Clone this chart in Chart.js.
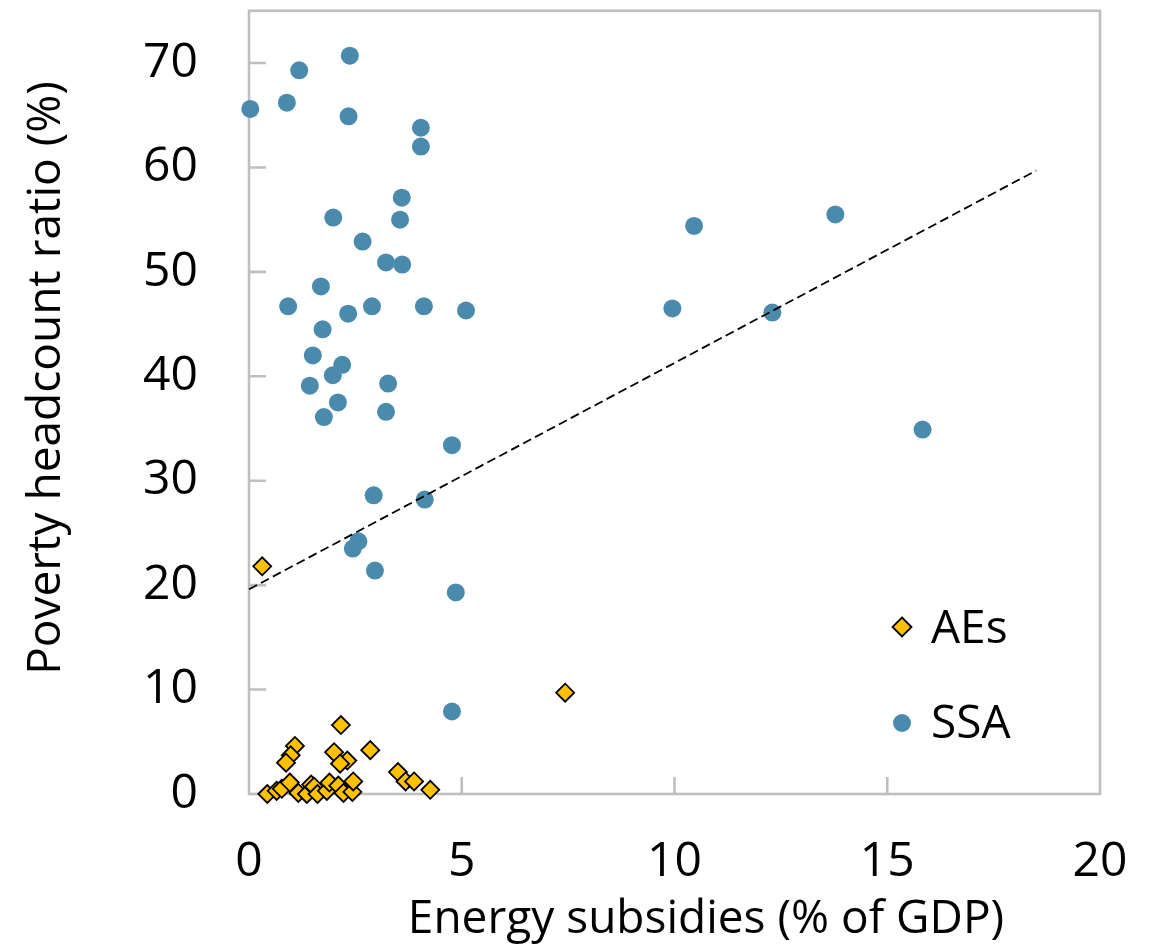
<!DOCTYPE html>
<html>
<head>
<meta charset="utf-8">
<script src="https://cdn.jsdelivr.net/npm/chart.js@4.4.1/dist/chart.umd.min.js"></script>
<style>
  html, body { margin: 0; padding: 0; background: #ffffff; }
  canvas { display: block; }
</style>
</head>
<body>
<canvas id="chart" width="1155" height="945"></canvas>
<script>
// Axis ticks
const xTicks = [0, 5, 10, 15, 20];
const yTicks = [0, 10, 20, 30, 40, 50, 60, 70];

// Advanced economies: energy subsidies (% of GDP) vs poverty headcount ratio (%)
const aeX = [0.31, 7.43, 2.16, 1.08, 0.98, 0.87, 2.00, 2.31, 2.14, 2.85, 3.50, 3.68, 3.88, 4.26,
             0.43, 0.65, 0.77, 0.96, 1.16, 1.36, 1.46, 1.53, 1.61, 1.83, 1.89, 2.10, 2.22, 2.43, 2.45];
const aeY = [21.8, 9.7, 6.6, 4.6, 3.7, 3.0, 4.0, 3.2, 2.9, 4.2, 2.1, 1.2, 1.2, 0.4,
             0.0, 0.3, 0.5, 1.1, 0.1, 0.0, 0.9, 0.7, 0.0, 0.3, 1.1, 0.8, 0.1, 0.2, 1.2];

// Sub-Saharan Africa
const ssaX = [0.03, 0.89, 1.18, 2.37, 2.34, 4.04, 4.04, 3.59, 1.98, 3.55, 2.67, 3.22, 3.60, 1.69,
              0.92, 2.89, 4.11, 5.10, 2.33, 1.73, 1.50, 2.19, 1.97, 1.43, 3.27, 2.09, 1.76, 3.22,
              4.77, 2.93, 4.13, 2.57, 2.44, 2.96, 4.86, 4.77, 10.46, 9.95, 12.30, 13.78, 15.83];
const ssaY = [65.6, 66.2, 69.3, 70.7, 64.9, 63.8, 62.0, 57.1, 55.2, 55.0, 52.9, 50.9, 50.7, 48.6,
              46.7, 46.7, 46.7, 46.3, 46.0, 44.5, 42.0, 41.1, 40.1, 39.1, 39.3, 37.5, 36.1, 36.6,
              33.4, 28.6, 28.2, 24.2, 23.5, 21.4, 19.3, 7.9, 54.4, 46.5, 46.1, 55.5, 34.9];

// Linear trend (SSA)
const trendX = [0, 18.5];
const trendY = [19.6, 59.7];

const seriesNames = ['AEs', 'SSA'];
const xTitle = 'Energy subsidies (% of GDP)';
const yTitle = 'Poverty headcount ratio (%)';

const FONT = "'Open Sans', 'Noto Sans', sans-serif";
const AE_FILL = '#FFC000';
const SSA_FILL = '#4A8BAD';
const FRAME = '#BFBFBF';

const zip = (xs, ys) => xs.map((x, i) => ({ x: x, y: ys[i] }));

// Plot frame and inward tick marks, drawn beneath the markers
const framePlugin = {
  id: 'frame',
  beforeDatasetsDraw(chart) {
    const { ctx, chartArea: a, scales } = chart;
    ctx.save();
    ctx.strokeStyle = FRAME;
    ctx.lineWidth = 2.6;
    ctx.strokeRect(a.left, a.top, a.right - a.left, a.bottom - a.top);
    const len = 17;
    ctx.beginPath();
    xTicks.slice(1, -1).forEach(v => {
      const px = scales.x.getPixelForValue(v);
      ctx.moveTo(px, a.bottom);
      ctx.lineTo(px, a.bottom - len);
    });
    yTicks.slice(1).forEach(v => {
      const py = scales.y.getPixelForValue(v);
      ctx.moveTo(a.left, py);
      ctx.lineTo(a.left + len, py);
    });
    ctx.stroke();
    ctx.restore();
  }
};

function diamond(ctx, x, y, r) {
  ctx.beginPath();
  ctx.moveTo(x, y - r);
  ctx.lineTo(x + r, y);
  ctx.lineTo(x, y + r);
  ctx.lineTo(x - r, y);
  ctx.closePath();
}

// Axis titles and the in-plot legend
const labelsPlugin = {
  id: 'labels',
  afterDraw(chart) {
    const { ctx } = chart;
    ctx.save();
    ctx.fillStyle = '#000000';
    ctx.font = '46px ' + FONT;
    ctx.textAlign = 'center';
    ctx.textBaseline = 'alphabetic';
    ctx.fillText(xTitle, 706, 933);

    ctx.translate(60, 378);
    ctx.rotate(-Math.PI / 2);
    ctx.fillText(yTitle, 0, 0);
    ctx.restore();

    ctx.save();
    // AEs
    diamond(ctx, 902, 627, 9.5);
    ctx.fillStyle = AE_FILL;
    ctx.fill();
    ctx.lineWidth = 1.8;
    ctx.strokeStyle = '#000000';
    ctx.stroke();
    // SSA
    ctx.beginPath();
    ctx.arc(902, 723, 9, 0, Math.PI * 2);
    ctx.fillStyle = SSA_FILL;
    ctx.fill();

    ctx.fillStyle = '#000000';
    ctx.font = '46px ' + FONT;
    ctx.textAlign = 'left';
    ctx.textBaseline = 'alphabetic';
    ctx.fillText(seriesNames[0], 931, 643);
    ctx.fillText(seriesNames[1], 931, 738);
    ctx.restore();
  }
};

new Chart(document.getElementById('chart'), {
  type: 'scatter',
  data: {
    datasets: [
      {
        type: 'line',
        label: 'Trend',
        data: zip(trendX, trendY),
        borderColor: '#000000',
        borderWidth: 1.8,
        borderDash: [9, 4.5],
        pointRadius: 0,
        fill: false,
        order: 0
      },
      {
        label: seriesNames[0],
        data: zip(aeX, aeY),
        pointStyle: 'rectRot',
        pointRadius: 9,
        backgroundColor: AE_FILL,
        borderColor: '#000000',
        borderWidth: 1.8,
        order: 1
      },
      {
        label: seriesNames[1],
        data: zip(ssaX, ssaY),
        pointStyle: 'circle',
        pointRadius: 9,
        backgroundColor: SSA_FILL,
        borderColor: SSA_FILL,
        borderWidth: 0,
        order: 2
      }
    ]
  },
  options: {
    responsive: false,
    animation: false,
    devicePixelRatio: 1,
    clip: false,
    layout: { padding: { top: 5.5, right: 55, left: 0, bottom: 0 } },
    plugins: {
      legend: { display: false },
      tooltip: { enabled: false }
    },
    scales: {
      x: {
        type: 'linear',
        min: 0,
        max: 20,
        afterBuildTicks: s => { s.ticks = xTicks.map(v => ({ value: v })); },
        afterFit: s => {
          s.height = 151;
          s.paddingLeft = 0;
          s.paddingRight = 0;
        },
        grid: { display: false, drawTicks: false, tickLength: 0 },
        border: { display: false },
        ticks: {
          padding: 40,
          color: '#000000',
          font: { family: FONT, size: 48 },
          maxRotation: 0
        }
      },
      y: {
        type: 'linear',
        min: 0,
        max: 75,
        afterBuildTicks: s => { s.ticks = yTicks.map(v => ({ value: v })); },
        afterFit: s => {
          s.width = 249;
          s.paddingTop = 0;
          s.paddingBottom = 0;
        },
        grid: { display: false, drawTicks: false, tickLength: 0 },
        border: { display: false },
        ticks: {
          padding: 51,
          color: '#000000',
          font: { family: FONT, size: 48 }
        }
      }
    }
  },
  plugins: [framePlugin, labelsPlugin]
});
</script>
</body>
</html>
